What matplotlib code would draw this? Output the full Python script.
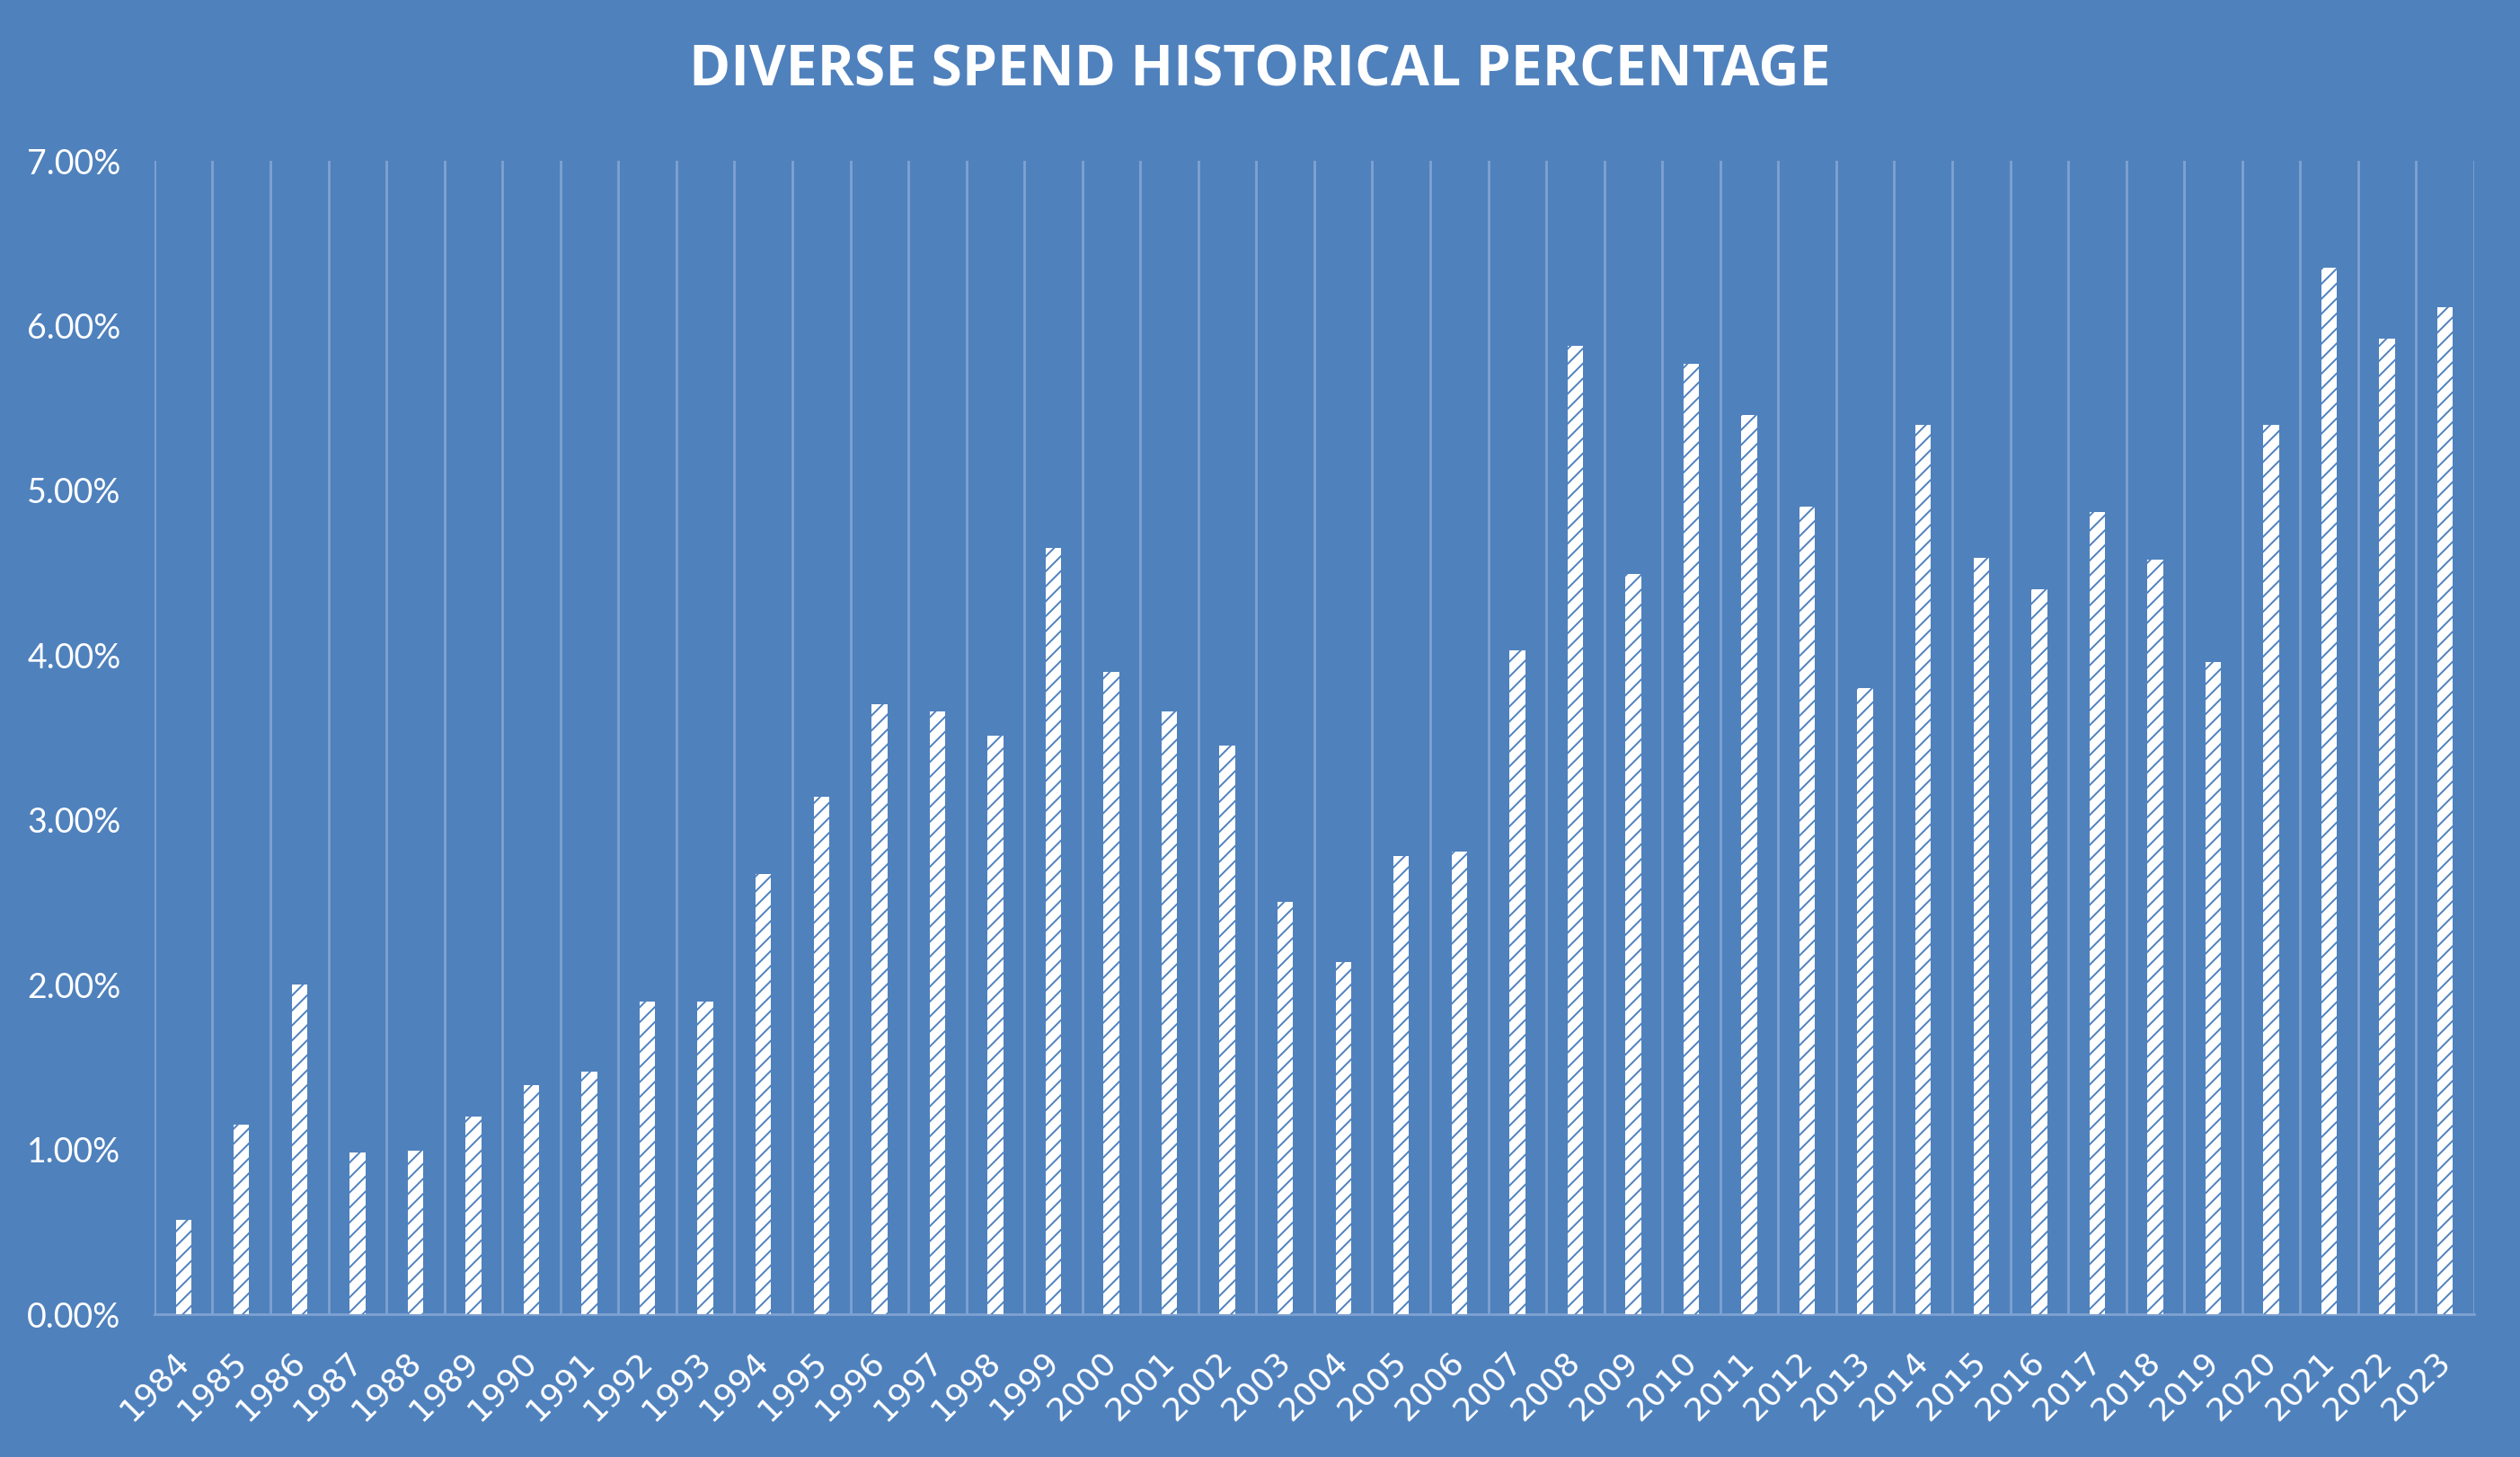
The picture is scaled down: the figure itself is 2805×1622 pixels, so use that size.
import matplotlib
matplotlib.use("Agg")
import matplotlib.pyplot as plt
import numpy as np
from matplotlib.ticker import FixedLocator

years = [str(y) for y in range(1984, 2024)]
values = [0.57, 1.15, 2.00, 0.98, 0.99, 1.20, 1.39, 1.47, 1.90, 1.90,
          2.67, 3.14, 3.70, 3.66, 3.51, 4.65, 3.90, 3.66, 3.45, 2.50,
          2.14, 2.78, 2.81, 4.03, 5.88, 4.49, 5.77, 5.46, 4.90, 3.80,
          5.40, 4.59, 4.40, 4.87, 4.58, 3.96, 5.40, 6.35, 5.92, 6.11]
yticks = [0, 1, 2, 3, 4, 5, 6, 7]
ytick_labels = [f"{v:.2f}%" for v in yticks]
title = "DIVERSE SPEND HISTORICAL PERCENTAGE"

BG = "#4F81BD"
GRID = "#7FA2D1"

plt.rcParams['font.family'] = 'DejaVu Sans'
plt.rcParams['hatch.linewidth'] = 1.4

fig = plt.figure(figsize=(28.05, 16.22), dpi=100, facecolor=BG)
ax = fig.add_axes([0.0613, 0.0980, 0.9205, 0.7916])
ax.set_facecolor(BG)

x = np.arange(len(years))
ax.bar(x, values, width=0.27, color="white", edgecolor=BG, linewidth=0,
       hatch="//", zorder=3)

ax.set_xlim(-0.5, len(years) - 0.5)
ax.set_ylim(0, 7)
ax.set_yticks(yticks)
ax.set_xticks(x)

ax.xaxis.set_minor_locator(FixedLocator(np.arange(-0.5, len(years), 1.0)))
ax.grid(True, which="minor", axis="x", color=GRID, linewidth=2.0, zorder=1)
ax.grid(False, which="major")

for s in ["top", "right", "left"]:
    ax.spines[s].set_visible(False)
ax.spines["bottom"].set_color(GRID)
ax.spines["bottom"].set_linewidth(2.0)

ax.tick_params(axis="both", which="both", length=0)
ax.tick_params(axis="y", pad=27)
ax.tick_params(axis="x", pad=34)

ax.set_yticklabels(ytick_labels, fontfamily="Lato", fontsize=27, color="white")
ax.set_xticklabels(years, fontfamily="DejaVu Sans", fontsize=26, color="white",
                   rotation=45, ha="right", va="center", rotation_mode="anchor")

fig.text(0.5, 0.951, title, ha="center", va="center", color="white",
         fontsize=45, fontweight="bold", fontfamily="Open Sans")

fig.savefig("out.png", dpi=100, facecolor=BG)
